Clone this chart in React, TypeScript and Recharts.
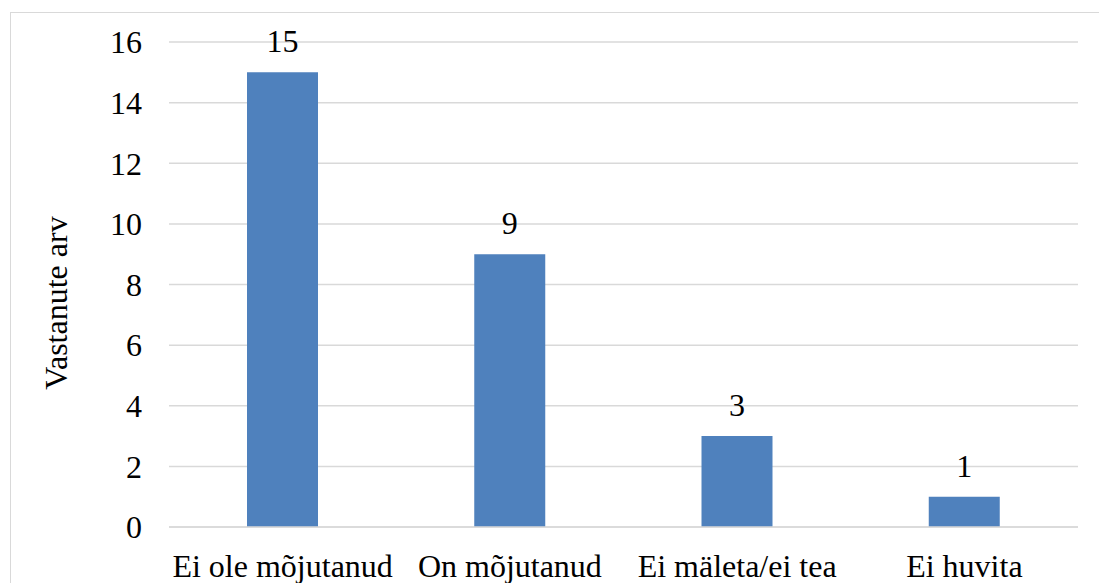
import React from "react";
import { BarChart, Bar, XAxis, YAxis, CartesianGrid, LabelList } from "recharts";

const categories = ["Ei ole mõjutanud", "On mõjutanud", "Ei mäleta/ei tea", "Ei huvita"];
const counts = [15, 9, 3, 1];
const yTicks = [0, 2, 4, 6, 8, 10, 12, 14, 16];
const yLabel = "Vastanute arv";

const data = categories.map((c, i) => ({ name: c, value: counts[i] }));

const FONT = "Liberation Serif";

export default function App() {
  return (
    <div style={{ position: "absolute", left: 0, top: 0, width: 1099, height: 583, background: "#fff", overflow: "hidden", fontFamily: "Liberation Serif, serif" }}>
      <style>{`svg text { font-family: "Liberation Serif", "Times New Roman", serif !important; }`}</style>
      <div style={{ position: "absolute", left: 10, top: 12, width: 1200, height: 700, border: "1px solid #d9d9d9", boxSizing: "border-box" }} />
      <div style={{ position: "absolute", left: 0, top: 0 }}>
        <BarChart width={1099} height={583} data={data} margin={{ top: 42, right: 21, bottom: 0, left: 0 }}>
          <CartesianGrid vertical={false} stroke="#d9d9d9" strokeWidth={1.5} />
          <XAxis
            dataKey="name"
            height={56}
            axisLine={{ stroke: "#d9d9d9", strokeWidth: 1.5 }}
            tickLine={false}
            tickSize={0}
            tickMargin={27}
            interval={0}
            tick={{ fill: "#000", fontSize: 32, fontFamily: FONT }}
          />
          <YAxis
            width={169}
            domain={[0, 16]}
            ticks={yTicks}
            axisLine={false}
            tickLine={false}
            tickSize={0}
            tickMargin={27}
            tick={{ fill: "#000", fontSize: 32, fontFamily: FONT }}
            label={{
              content: () => (
                <text x={67} y={303} transform="rotate(-90 67 303)" textAnchor="middle" fill="#000" fontSize={32} fontFamily={FONT}>
                  {yLabel}
                </text>
              ),
            }}
          />
          <Bar dataKey="value" fill="#4F81BD" barSize={71} isAnimationActive={false}>
            <LabelList dataKey="value" position="top" offset={20} fill="#000" fontSize={32} fontFamily={FONT} />
          </Bar>
        </BarChart>
      </div>
    </div>
  );
}
